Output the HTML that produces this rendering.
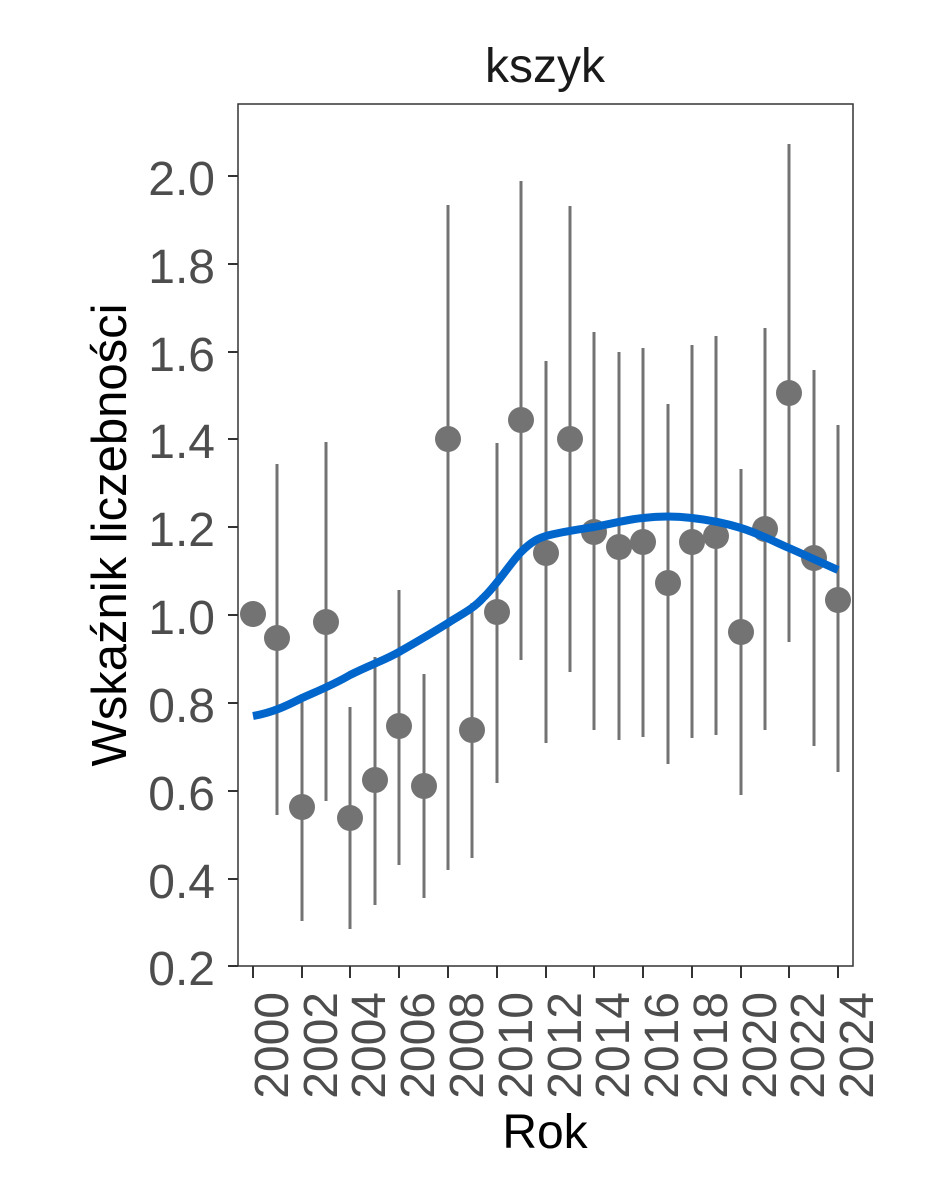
<!DOCTYPE html>
<html><head><meta charset="utf-8"><style>body{margin:0;background:#fff}svg{display:block}</style></head><body>
<svg width="944" height="1181" xmlns="http://www.w3.org/2000/svg" font-family="Liberation Sans, Arial, sans-serif">
<rect width="944" height="1181" fill="#fff"/>
<rect x="238" y="104" width="615" height="862" fill="none" stroke="#333" stroke-width="1.5"/>
<g fill="#4d4d4d" font-size="48" text-anchor="end">
<text x="215" y="195">2.0</text><text x="215" y="283">1.8</text><text x="215" y="371">1.6</text><text x="215" y="458">1.4</text><text x="215" y="546">1.2</text><text x="215" y="634">1.0</text><text x="215" y="722">0.8</text><text x="215" y="810">0.6</text><text x="215" y="898">0.4</text><text x="215" y="985">0.2</text>
</g>
<g stroke="#333" stroke-width="2">
<line x1="228" x2="238" y1="176" y2="176"/><line x1="228" x2="238" y1="264" y2="264"/><line x1="228" x2="238" y1="352" y2="352"/><line x1="228" x2="238" y1="439" y2="439"/><line x1="228" x2="238" y1="527" y2="527"/><line x1="228" x2="238" y1="615" y2="615"/><line x1="228" x2="238" y1="703" y2="703"/><line x1="228" x2="238" y1="791" y2="791"/><line x1="228" x2="238" y1="879" y2="879"/><line x1="228" x2="238" y1="966" y2="966"/>
<line x1="253" x2="253" y1="966" y2="978"/><line x1="302" x2="302" y1="966" y2="978"/><line x1="350" x2="350" y1="966" y2="978"/><line x1="399" x2="399" y1="966" y2="978"/><line x1="448" x2="448" y1="966" y2="978"/><line x1="497" x2="497" y1="966" y2="978"/><line x1="546" x2="546" y1="966" y2="978"/><line x1="594" x2="594" y1="966" y2="978"/><line x1="643" x2="643" y1="966" y2="978"/><line x1="692" x2="692" y1="966" y2="978"/><line x1="741" x2="741" y1="966" y2="978"/><line x1="789" x2="789" y1="966" y2="978"/><line x1="838" x2="838" y1="966" y2="978"/>
</g>
<g fill="#4d4d4d" font-size="48" text-anchor="end">
<text transform="translate(288,992) rotate(-90)">2000</text><text transform="translate(337,992) rotate(-90)">2002</text><text transform="translate(385,992) rotate(-90)">2004</text><text transform="translate(434,992) rotate(-90)">2006</text><text transform="translate(483,992) rotate(-90)">2008</text><text transform="translate(532,992) rotate(-90)">2010</text><text transform="translate(581,992) rotate(-90)">2012</text><text transform="translate(629,992) rotate(-90)">2014</text><text transform="translate(678,992) rotate(-90)">2016</text><text transform="translate(727,992) rotate(-90)">2018</text><text transform="translate(776,992) rotate(-90)">2020</text><text transform="translate(824,992) rotate(-90)">2022</text><text transform="translate(873,992) rotate(-90)">2024</text>
</g>
<g stroke="#737373" stroke-width="3">
<line x1="277" x2="277" y1="464" y2="815"/><line x1="302" x2="302" y1="694" y2="921"/><line x1="326" x2="326" y1="442" y2="801"/><line x1="350" x2="350" y1="707" y2="929"/><line x1="375" x2="375" y1="657" y2="905"/><line x1="399" x2="399" y1="590" y2="865"/><line x1="424" x2="424" y1="674" y2="898"/><line x1="448" x2="448" y1="205" y2="870"/><line x1="472" x2="472" y1="603" y2="858"/><line x1="497" x2="497" y1="443" y2="783"/><line x1="521" x2="521" y1="181" y2="660"/><line x1="546" x2="546" y1="361" y2="743"/><line x1="570" x2="570" y1="206" y2="672"/><line x1="594" x2="594" y1="332" y2="730"/><line x1="619" x2="619" y1="352" y2="740"/><line x1="643" x2="643" y1="348" y2="737"/><line x1="668" x2="668" y1="404" y2="764"/><line x1="692" x2="692" y1="345" y2="738"/><line x1="716" x2="716" y1="336" y2="735"/><line x1="741" x2="741" y1="469" y2="795"/><line x1="765" x2="765" y1="328" y2="730"/><line x1="789" x2="789" y1="144" y2="642"/><line x1="814" x2="814" y1="370" y2="746"/><line x1="838" x2="838" y1="425" y2="772"/>
</g>
<g fill="#737373">
<circle cx="253" cy="614" r="13"/><circle cx="277" cy="638" r="13"/><circle cx="302" cy="807" r="13"/><circle cx="326" cy="622" r="13"/><circle cx="350" cy="818" r="13"/><circle cx="375" cy="780" r="13"/><circle cx="399" cy="726" r="13"/><circle cx="424" cy="786" r="13"/><circle cx="448" cy="439" r="13"/><circle cx="472" cy="730" r="13"/><circle cx="497" cy="612" r="13"/><circle cx="521" cy="420" r="13"/><circle cx="546" cy="553" r="13"/><circle cx="570" cy="439" r="13"/><circle cx="594" cy="532" r="13"/><circle cx="619" cy="547" r="13"/><circle cx="643" cy="542" r="13"/><circle cx="668" cy="583" r="13"/><circle cx="692" cy="542" r="13"/><circle cx="716" cy="536" r="13"/><circle cx="741" cy="632" r="13"/><circle cx="765" cy="529" r="13"/><circle cx="789" cy="393" r="13"/><circle cx="814" cy="558" r="13"/><circle cx="838" cy="600" r="13"/>
</g>
<path d="M253,716 C275,712 290,704 302,698 C320,690 335,684 350,675 C370,665 385,660 399,652 C420,640 432,633 448,623 C460,615 472,610 483,598 C497,585 508,566 521,552 C533,540 540,538 546,536 C560,532 575,530 594,527 C615,523 630,519 643,518 C660,516 675,516 692,518 C710,520 725,523 741,528 C760,534 775,542 789,548 C805,555 820,562 838,570" fill="none" stroke="#0066cc" stroke-width="8"/>
<text x="545" y="82" font-size="48" text-anchor="middle" fill="#1a1a1a">kszyk</text>
<text x="545" y="1148" font-size="48" text-anchor="middle" fill="#000">Rok</text>
<text transform="translate(126,535) rotate(-90)" font-size="49" text-anchor="middle" fill="#000">Wskaźnik liczebności</text>
</svg>
</body></html>
